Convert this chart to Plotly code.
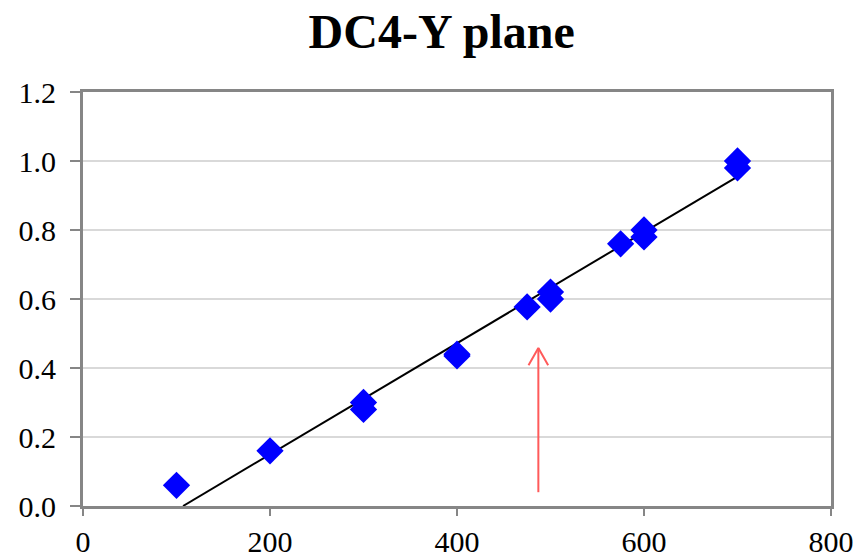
import plotly.graph_objects as go

# Data
x_vals = [100, 200, 300, 300, 400, 400, 475, 500, 500, 575, 600, 600, 700, 700]
y_vals = [0.06, 0.16, 0.30, 0.28, 0.44, 0.435, 0.577, 0.62, 0.60, 0.76, 0.80, 0.78, 1.00, 0.98]

fit_x = [107, 700]
fit_y = [0.0, 0.955]

arrow_x = 487
arrow_tail_y = 0.04
arrow_tip_y = 0.458

x_ticks = [0, 200, 400, 600, 800]
y_ticks = [0.0, 0.2, 0.4, 0.6, 0.8, 1.0, 1.2]

FONT = "Liberation Serif"

fig = go.Figure()

fig.add_trace(go.Scatter(
    x=fit_x, y=fit_y, mode="lines",
    line=dict(color="black", width=2), showlegend=False, hoverinfo="skip"))

fig.add_trace(go.Scatter(
    x=x_vals, y=y_vals, mode="markers",
    marker=dict(symbol="diamond", size=21, color="#0000ff", line=dict(width=0)),
    showlegend=False))

# red arrow (shaft + open chevron head)
dx = 10.5
dy = 0.05
fig.add_trace(go.Scatter(
    x=[arrow_x, arrow_x, None, arrow_x - dx, arrow_x, arrow_x + dx],
    y=[arrow_tail_y, arrow_tip_y, None, arrow_tip_y - dy, arrow_tip_y, arrow_tip_y - dy],
    mode="lines", line=dict(color="#ff5a5a", width=2),
    showlegend=False, hoverinfo="skip"))

fig.update_layout(
    width=861, height=559,
    margin=dict(l=83, r=30, t=92, b=53),
    paper_bgcolor="white", plot_bgcolor="white",
    font=dict(family=FONT, color="black", size=30),
    title=dict(text="<b>DC4-Y plane</b>", x=0.513, xanchor="center",
               y=0.945, yanchor="middle",
               font=dict(family=FONT, size=48, color="black")),
)

fig.update_xaxes(
    range=[0, 800], tickvals=x_ticks, ticktext=[str(v) for v in x_ticks],
    showgrid=False, zeroline=False, automargin=False,
    showline=True, linecolor="#868686", linewidth=3, mirror=True,
    ticks="outside", ticklen=7, tickwidth=2, tickcolor="#868686",
    ticklabelstandoff=0,
    tickfont=dict(family=FONT, size=30, color="black"))

fig.update_yaxes(
    range=[0, 1.2], tickvals=y_ticks, ticktext=[f"{v:.1f}" for v in y_ticks],
    showgrid=True, gridcolor="#d9d9d9", gridwidth=2, zeroline=False, automargin=False,
    showline=True, linecolor="#868686", linewidth=3, mirror=True,
    ticks="outside", ticklen=10, tickwidth=2, tickcolor="#868686",
    ticklabelstandoff=8,
    tickfont=dict(family=FONT, size=30, color="black"))

fig.write_html("out.html")
